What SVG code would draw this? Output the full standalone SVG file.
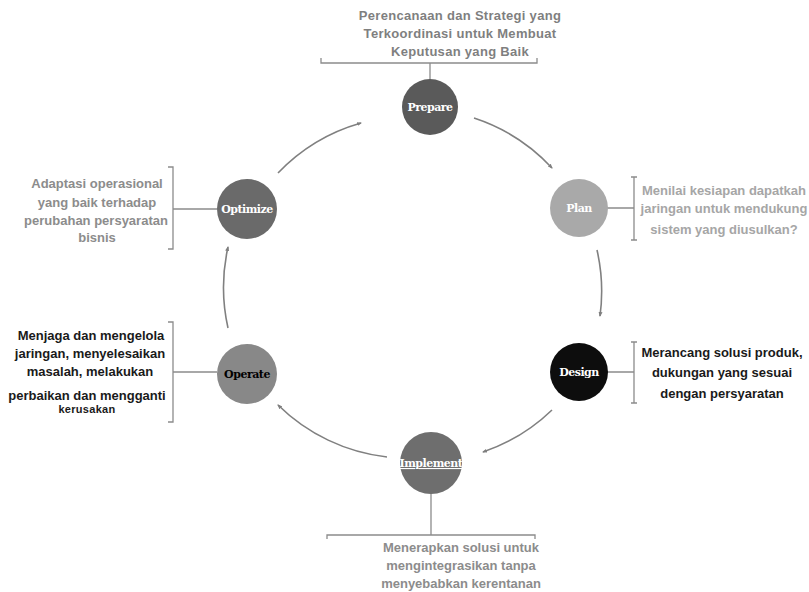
<svg xmlns="http://www.w3.org/2000/svg" width="809" height="592" viewBox="0 0 809 592">
<defs>
<marker id="ah" viewBox="0 0 10 10" refX="8" refY="5" markerWidth="5" markerHeight="5" orient="auto" markerUnits="userSpaceOnUse">
<path d="M0,1 L10,5 L0,9 Z" fill="#7f7f7f"/>
</marker>
<style>
.arc{fill:none;stroke:#808080;stroke-width:1.6;marker-end:url(#ah)}
.br{fill:none;stroke:#8c8c8c;stroke-width:1.3}
.lbl{font-family:"DejaVu Serif","Liberation Serif",serif;font-weight:bold;font-size:11px;text-anchor:middle;letter-spacing:-0.5px}
.t{font-family:"Liberation Sans",Arial,sans-serif;font-weight:bold;font-size:13px;text-anchor:middle;letter-spacing:0px}
.w{letter-spacing:0.3px}
.g1{fill:#7f7f7f}
.g2{fill:#a6a6a6}
.g3{fill:#8c8c8c}
.k{fill:#1a1a1a}
</style>
</defs>
<rect width="809" height="592" fill="#ffffff"/>
<g id="connectors">
<path class="arc" d="M474,118 A185,185 0 0 1 552,168"/>
<path class="arc" d="M597,250 A185,185 0 0 1 600,316"/>
<path class="arc" d="M552,410 A185,185 0 0 1 483,452"/>
<path class="arc" d="M387,457 A185,185 0 0 1 278,405"/>
<path class="arc" d="M228,328 A185,185 0 0 1 228,247"/>
<path class="arc" d="M278,173 A185,185 0 0 1 361,123"/>
</g>
<g id="prepare">
<path class="br" d="M321,58 L321,63 L537,63 L537,58 M430,63 L430,80"/>
<circle cx="430" cy="107" r="28" fill="#5a5a5a"/>
<text class="lbl" x="430" y="111" fill="#ffffff">Prepare</text>
<text class="t w g1" x="460" y="20">Perencanaan dan Strategi yang</text>
<text class="t w g1" x="460" y="38">Terkoordinasi untuk Membuat</text>
<text class="t w g1" x="460" y="56">Keputusan yang Baik</text>
</g>
<g id="plan">
<path class="br" d="M607,208 L634,208 M631,177 L637,177 M634,177 L634,240 M631,240 L637,240"/>
<circle cx="579" cy="208" r="29" fill="#a9a9a9"/>
<text class="lbl" x="579" y="212" fill="#ffffff">Plan</text>
<text class="t g2" x="724" y="195">Menilai kesiapan dapatkah</text>
<text class="t g2" x="724" y="213">jaringan untuk mendukung</text>
<text class="t g2" x="724" y="234">sistem yang diusulkan?</text>
</g>
<g id="design">
<path class="br" d="M607,372 L634,372 M631,342 L637,342 M634,342 L634,403 M631,403 L637,403"/>
<circle cx="579" cy="372" r="29" fill="#0d0d0d"/>
<text class="lbl" x="579" y="376" fill="#ffffff">Design</text>
<text class="t k" x="722" y="357">Merancang solusi produk,</text>
<text class="t k" x="722" y="377">dukungan yang sesuai</text>
<text class="t k" x="722" y="398">dengan persyaratan</text>
</g>
<g id="implement">
<path class="br" d="M431,493 L431,535 M327,539 L327,535 L535,535 L535,539"/>
<circle cx="431" cy="463" r="31" fill="#6e6e6e"/>
<text class="lbl" x="431" y="467" fill="#ffffff" text-decoration="underline">Implement</text>
<text class="t g3" x="461" y="552">Menerapkan solusi untuk</text>
<text class="t g3" x="461" y="570">mengintegrasikan tanpa</text>
<text class="t g3" x="461" y="588">menyebabkan kerentanan</text>
</g>
<g id="operate">
<path class="br" d="M217,372 L173,372 M168,322 L173,322 L173,422 L168,422"/>
<circle cx="247" cy="374" r="30" fill="#888888"/>
<text class="lbl" x="247" y="378" fill="#000000">Operate</text>
<text class="t k" x="91" y="340">Menjaga dan mengelola</text>
<text class="t k" x="90" y="358">jaringan, menyelesaikan</text>
<text class="t k" x="90" y="376">masalah, melakukan</text>
<text class="t k" x="87" y="400">perbaikan dan mengganti</text>
<text class="t w k" x="87" y="413" style="font-size:11px">kerusakan</text>
</g>
<g id="optimize">
<path class="br" d="M217,209 L173,209 M168,167 L173,167 L173,249 L168,249"/>
<circle cx="247" cy="209" r="30" fill="#6a6a6a"/>
<text class="lbl" x="247" y="213" fill="#ffffff">Optimize</text>
<text class="t g3" x="97" y="188">Adaptasi operasional</text>
<text class="t g3" x="97" y="207">yang baik terhadap</text>
<text class="t g3" x="96" y="225">perubahan persyaratan</text>
<text class="t g3" x="97" y="242">bisnis</text>
</g>
</svg>
